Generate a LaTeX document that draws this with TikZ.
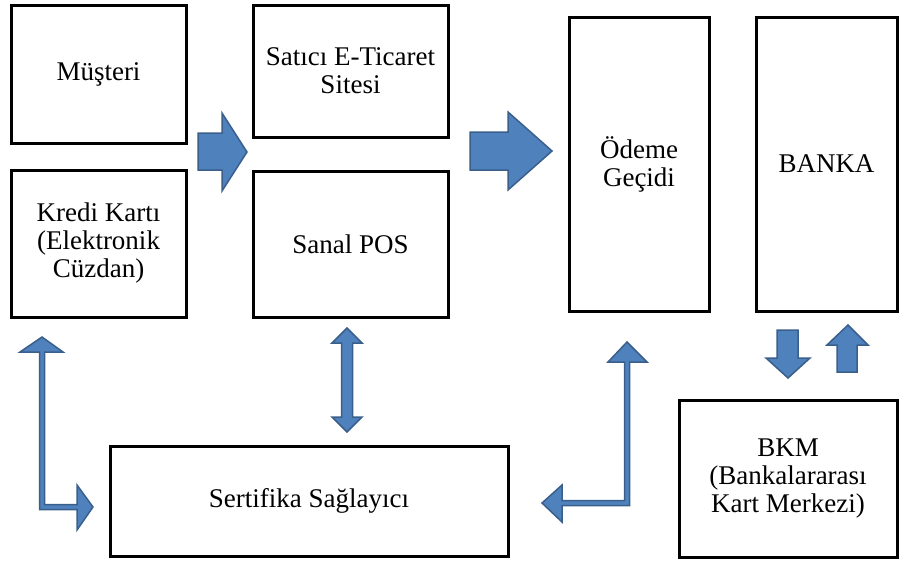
\documentclass[tikz,border=0pt]{standalone}
\usepackage{fontspec}
\setmainfont{Liberation Serif}
\definecolor{arrfill}{HTML}{4F81BD}
\definecolor{arrline}{HTML}{3A5F8B}
\begin{document}
\begin{tikzpicture}[x=1pt,y=-1pt,
  box/.style={draw=black, line width=3pt, rectangle, align=center, inner sep=0pt,
    font=\fontsize{27}{28}\selectfont},
  blockarrow/.style={fill=arrfill, draw=arrline, line width=1.5pt, line join=miter}]
\useasboundingbox (0,0) rectangle (900,562);
% boxes
\node[box, minimum width=175pt, minimum height=138pt] (musteri) at (98.5,74) {Müşteri};
\node[box, minimum width=175pt, minimum height=147pt] (kredi) at (98.5,243.5) {Kredi Kartı\\(Elektronik\\Cüzdan)};
\node[box, minimum width=195pt, minimum height=132pt] (satici) at (350.5,71) {Satıcı E-Ticaret\\Sitesi};
\node[box, minimum width=195pt, minimum height=146pt] (sanal) at (350.5,244) {Sanal POS};
\node[box, minimum width=140pt, minimum height=294pt] (odeme) at (639,164) {Ödeme\\Geçidi};
\node[box, minimum width=141pt, minimum height=294pt] (banka) at (826.5,164) {BANKA};
\node[box, minimum width=398pt, minimum height=110pt] (sertifika) at (309,501) {Sertifika Sağlayıcı};
\node[box, minimum width=218pt, minimum height=157pt] (bkm) at (788,478.5) {BKM\\(Bankalararası\\Kart Merkezi)};
% block arrows
\draw[blockarrow] (198,133) -- (222,133) -- (222,113) -- (247,152) -- (222,191) -- (222,170) -- (198,170) -- cycle;
\draw[blockarrow] (470,132) -- (508,132) -- (508,112) -- (552,151) -- (508,190) -- (508,170) -- (470,170) -- cycle;
\draw[blockarrow] (777,330) -- (798,330) -- (798,358) -- (810,358) -- (788,378) -- (766,358) -- (777,358) -- cycle;
\draw[blockarrow] (837,372) -- (857,372) -- (857,345) -- (868,345) -- (848,325) -- (827,345) -- (837,345) -- cycle;
% double arrow
\draw[blockarrow] (347,328) -- (362,343) -- (352.5,343) -- (352.5,417) -- (362,417) -- (347,432) -- (332,417) -- (341.5,417) -- (341.5,343) -- (332,343) -- cycle;
% left L arrow
\draw[blockarrow] (42,337) -- (63,352) -- (44.5,352) -- (44.5,504.5) -- (77,504.5) -- (77,485) -- (93,507) -- (77,530) -- (77,509.5) -- (39.5,509.5) -- (39.5,352) -- (20,352) -- cycle;
% right L arrow
\draw[blockarrow] (627,342) -- (647,362) -- (629.5,362) -- (629.5,505.5) -- (562,505.5) -- (562,522) -- (542,503) -- (562,485) -- (562,500.5) -- (624.5,500.5) -- (624.5,362) -- (608,362) -- cycle;
\end{tikzpicture}
\end{document}
